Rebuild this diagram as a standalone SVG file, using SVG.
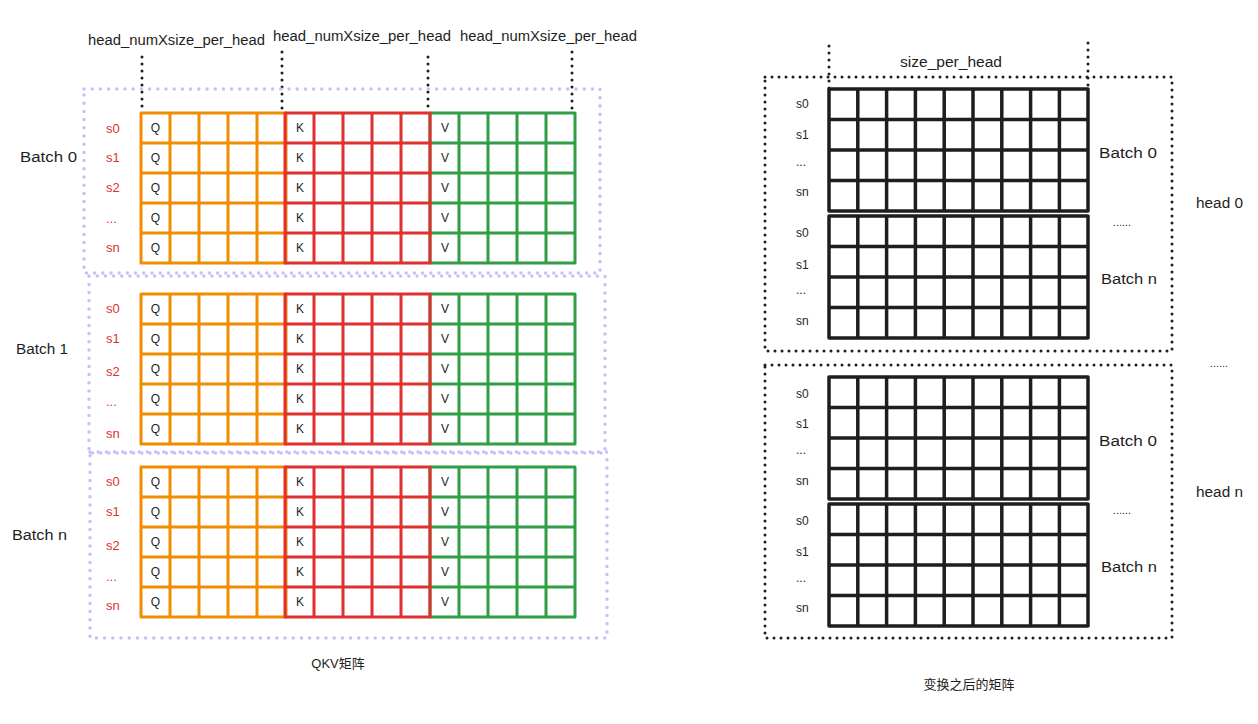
<svg xmlns="http://www.w3.org/2000/svg" xmlns:xlink="http://www.w3.org/1999/xlink" width="1258" height="724" viewBox="0 0 1258 724">
<style>
.t{font-family:"Liberation Sans","Noto Sans CJK SC",sans-serif;fill:#1e1e1e}
.lbl{font-size:14px}
.rl{font-size:13px;fill:#e03131}
.br{font-size:12px}
.cl{font-size:12px;text-anchor:middle}
.dots{font-size:11px;text-anchor:middle}
.cap{font-size:13px;text-anchor:middle}
.grid{fill:none;stroke-width:3;stroke-linejoin:round;stroke-linecap:round}
.bgrid{fill:none;stroke:#1e1e1e;stroke-width:3.5;stroke-linejoin:round;stroke-linecap:round}
.pdot{fill:none;stroke:#cbbcfd;stroke-width:3.5;stroke-dasharray:0 8.2;stroke-linecap:round}
.kdot{fill:none;stroke:#1e1e1e;stroke-width:3;stroke-dasharray:0 7;stroke-linecap:round}
</style>
<defs>
<path id="blk" class="grid" d="M0 0H145V150H0Z M29 0V150 M58 0V150 M87 0V150 M116 0V150 M0 30H145 M0 60H145 M0 90H145 M0 120H145"/>
<path id="bblk" class="bgrid" d="M0 0H259V122H0Z M28.8 0V122 M57.6 0V122 M86.4 0V122 M115.2 0V122 M144 0V122 M172.8 0V122 M201.6 0V122 M230.4 0V122 M0 30.5H259 M0 61H259 M0 91.5H259"/>
</defs>
<rect width="1258" height="724" fill="#ffffff"/>

<g id="guides">
<path class="kdot" d="M142 57V108 M282 52V110 M428 57V108 M572 52V110"/>
<path class="kdot" d="M829 46V89 M1088 43V86"/>
</g>

<g id="top-labels">
<text class="t lbl" x="88" y="45" textLength="177" lengthAdjust="spacingAndGlyphs">head_numXsize_per_head</text>
<text class="t lbl" x="273" y="41" textLength="178" lengthAdjust="spacingAndGlyphs">head_numXsize_per_head</text>
<text class="t lbl" x="460" y="41" textLength="177" lengthAdjust="spacingAndGlyphs">head_numXsize_per_head</text>
</g>

<g id="batch0">
<rect class="pdot" x="84" y="89" width="516" height="184"/>
<text class="t lbl" x="20" y="162" textLength="57" lengthAdjust="spacingAndGlyphs">Batch 0</text>
<use xlink:href="#blk" x="141" y="113" stroke="#f08c00"/>
<use xlink:href="#blk" x="430" y="113" stroke="#2f9e44"/>
<use xlink:href="#blk" x="285" y="113" stroke="#e03131"/>
<text class="t rl" x="106" y="133">s0</text><text class="t rl" x="106" y="162">s1</text><text class="t rl" x="106" y="192">s2</text><text class="t rl" x="106" y="223">...</text><text class="t rl" x="106" y="252">sn</text>
<text class="t cl" x="155.5" y="132">Q</text><text class="t cl" x="155.5" y="162">Q</text><text class="t cl" x="155.5" y="192">Q</text><text class="t cl" x="155.5" y="222">Q</text><text class="t cl" x="155.5" y="252">Q</text>
<text class="t cl" x="300" y="132">K</text><text class="t cl" x="300" y="162">K</text><text class="t cl" x="300" y="192">K</text><text class="t cl" x="300" y="222">K</text><text class="t cl" x="300" y="252">K</text>
<text class="t cl" x="445" y="132">V</text><text class="t cl" x="445" y="162">V</text><text class="t cl" x="445" y="192">V</text><text class="t cl" x="445" y="222">V</text><text class="t cl" x="445" y="252">V</text>
</g>

<g id="batch1">
<rect class="pdot" x="89" y="276" width="516" height="177"/>
<text class="t lbl" x="16" y="354" textLength="52" lengthAdjust="spacingAndGlyphs">Batch 1</text>
<use xlink:href="#blk" x="141" y="294" stroke="#f08c00"/>
<use xlink:href="#blk" x="430" y="294" stroke="#2f9e44"/>
<use xlink:href="#blk" x="285" y="294" stroke="#e03131"/>
<text class="t rl" x="106" y="313">s0</text><text class="t rl" x="106" y="343">s1</text><text class="t rl" x="106" y="376">s2</text><text class="t rl" x="106" y="406">...</text><text class="t rl" x="106" y="438">sn</text>
<text class="t cl" x="155.5" y="313">Q</text><text class="t cl" x="155.5" y="343">Q</text><text class="t cl" x="155.5" y="373">Q</text><text class="t cl" x="155.5" y="403">Q</text><text class="t cl" x="155.5" y="433">Q</text>
<text class="t cl" x="300" y="313">K</text><text class="t cl" x="300" y="343">K</text><text class="t cl" x="300" y="373">K</text><text class="t cl" x="300" y="403">K</text><text class="t cl" x="300" y="433">K</text>
<text class="t cl" x="445" y="313">V</text><text class="t cl" x="445" y="343">V</text><text class="t cl" x="445" y="373">V</text><text class="t cl" x="445" y="403">V</text><text class="t cl" x="445" y="433">V</text>
</g>

<g id="batchn">
<rect class="pdot" x="90" y="452" width="517" height="186"/>
<text class="t lbl" x="12" y="540" textLength="55" lengthAdjust="spacingAndGlyphs">Batch n</text>
<use xlink:href="#blk" x="141" y="467" stroke="#f08c00"/>
<use xlink:href="#blk" x="430" y="467" stroke="#2f9e44"/>
<use xlink:href="#blk" x="285" y="467" stroke="#e03131"/>
<text class="t rl" x="106" y="486">s0</text><text class="t rl" x="106" y="516">s1</text><text class="t rl" x="106" y="550">s2</text><text class="t rl" x="106" y="581">...</text><text class="t rl" x="106" y="610">sn</text>
<text class="t cl" x="155.5" y="486">Q</text><text class="t cl" x="155.5" y="516">Q</text><text class="t cl" x="155.5" y="546">Q</text><text class="t cl" x="155.5" y="576">Q</text><text class="t cl" x="155.5" y="606">Q</text>
<text class="t cl" x="300" y="486">K</text><text class="t cl" x="300" y="516">K</text><text class="t cl" x="300" y="546">K</text><text class="t cl" x="300" y="576">K</text><text class="t cl" x="300" y="606">K</text>
<text class="t cl" x="445" y="486">V</text><text class="t cl" x="445" y="516">V</text><text class="t cl" x="445" y="546">V</text><text class="t cl" x="445" y="576">V</text><text class="t cl" x="445" y="606">V</text>
</g>

<g id="qkv-caption"><text class="t cap" x="338" y="668">QKV矩阵</text></g>

<g id="size-label"><text class="t lbl" x="900" y="67" font-size="13" textLength="102" lengthAdjust="spacingAndGlyphs">size_per_head</text></g>

<g id="head0">
<rect class="kdot" x="765" y="77" width="407" height="274"/>
<use xlink:href="#bblk" x="829" y="89"/>
<use xlink:href="#bblk" x="829" y="216"/>
<text class="t br" x="796" y="108">s0</text><text class="t br" x="796" y="139">s1</text><text class="t br" x="796" y="166">...</text><text class="t br" x="796" y="196">sn</text>
<text class="t br" x="796" y="237">s0</text><text class="t br" x="796" y="269">s1</text><text class="t br" x="796" y="294">...</text><text class="t br" x="796" y="325">sn</text>
<text class="t lbl" x="1099" y="158" textLength="58" lengthAdjust="spacingAndGlyphs">Batch 0</text>
<text class="t dots" x="1122" y="226">......</text>
<text class="t lbl" x="1101" y="284" textLength="56" lengthAdjust="spacingAndGlyphs">Batch n</text>
<text class="t lbl" x="1196" y="208" textLength="47" lengthAdjust="spacingAndGlyphs">head 0</text>
</g>

<g id="heads-ellipsis"><text class="t dots" x="1219" y="367">......</text></g>

<g id="headn">
<rect class="kdot" x="765" y="365" width="407" height="273"/>
<use xlink:href="#bblk" x="829" y="377"/>
<use xlink:href="#bblk" x="829" y="504"/>
<text class="t br" x="796" y="398">s0</text><text class="t br" x="796" y="428">s1</text><text class="t br" x="796" y="454">...</text><text class="t br" x="796" y="485">sn</text>
<text class="t br" x="796" y="525">s0</text><text class="t br" x="796" y="556">s1</text><text class="t br" x="796" y="582">...</text><text class="t br" x="796" y="612">sn</text>
<text class="t lbl" x="1099" y="446" textLength="58" lengthAdjust="spacingAndGlyphs">Batch 0</text>
<text class="t dots" x="1122" y="514">......</text>
<text class="t lbl" x="1101" y="572" textLength="56" lengthAdjust="spacingAndGlyphs">Batch n</text>
<text class="t lbl" x="1196" y="497" textLength="47" lengthAdjust="spacingAndGlyphs">head n</text>
</g>

<g id="result-caption"><text class="t cap" x="969" y="689">变换之后的矩阵</text></g>
</svg>
